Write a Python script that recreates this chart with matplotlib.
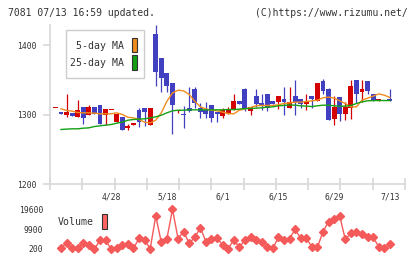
import numpy as np
import matplotlib
matplotlib.use("Agg")
import matplotlib.pyplot as plt
from matplotlib.patches import Rectangle

# ---------------- data ----------------
header_left = "7081 07/13 16:59 updated."
header_right = "(C)https://www.rizumu.net/"

date_labels = ["4/28", "5/18", "6/1", "6/15", "6/29", "7/13"]
date_label_idx = [9, 19, 29, 39, 49, 59]

price_ticks = [1200, 1300, 1400]
volume_ticks = [200, 9900, 19600]

candle_idx = list(range(-1, 60))
opens = [1310, 1304, 1298.6, 1301.5, 1296.2, 1311.5, 1299, 1311.5, 1313, 1299, 1307,
         1289, 1297, 1280, 1284.6, 1307, 1309.6, 1285.6, 1416.5, 1382, 1359,
         1345.6, 1305, 1301.4, 1309, 1336, 1310, 1307, 1313, 1304.3, 1297.6,
         1301.4, 1306.2, 1320, 1337.4, 1304.6, 1326, 1317, 1330, 1320, 1318.7,
         1321.6, 1310, 1326, 1321.6, 1314.4, 1327.3, 1320, 1347.5, 1336, 1294.2,
         1324.5, 1301.4, 1310, 1349, 1331.7, 1347.5, 1328.8, 1320, 1321.6, 1323]
highs = [1310, 1304, 1330, 1301.5, 1320.6, 1311.5, 1313, 1311.5, 1313, 1308.6, 1307,
         1300.5, 1297, 1286, 1287.5, 1310, 1309.6, 1309.6, 1429, 1382, 1359,
         1345.6, 1307, 1312, 1339, 1340, 1316, 1317.7, 1313, 1304.3, 1309.6,
         1311, 1330, 1320, 1338, 1311, 1336, 1330, 1330, 1320, 1327,
         1340, 1340, 1350, 1321.6, 1330, 1327.3, 1346, 1350.4, 1338, 1326,
         1324.5, 1318.7, 1349, 1349, 1349, 1347.5, 1328.8, 1322, 1323, 1336]
lows = [1310, 1300.5, 1296.6, 1297.6, 1296.2, 1286.6, 1299, 1300.5, 1286, 1285.6, 1307,
        1289, 1277.5, 1278, 1284.6, 1282, 1283, 1285.6, 1340.7, 1332, 1332,
        1272, 1302, 1280, 1304, 1310, 1294.7, 1294.7, 1289, 1289, 1294.7,
        1301.4, 1306.2, 1315, 1305, 1300, 1311, 1306, 1305, 1315, 1308,
        1299, 1310, 1298.6, 1310, 1305.8, 1310, 1320, 1328.8, 1292.8, 1285.6,
        1290, 1292.8, 1294, 1317, 1318.7, 1328.8, 1320, 1320, 1321.6, 1320]
closes = [1310, 1300.5, 1303, 1297.6, 1306.2, 1294.7, 1311.5, 1300.5, 1286, 1308.6, 1307.2,
          1300.5, 1277.5, 1284, 1287.5, 1289, 1303.4, 1309.6, 1361, 1352, 1341,
          1313, 1306.5, 1298.6, 1305, 1316, 1304.3, 1301.4, 1294.7, 1300.5, 1306.2,
          1306.2, 1320, 1315, 1308, 1311, 1315, 1314, 1310, 1315, 1327,
          1317.3, 1318.7, 1318.7, 1314.4, 1320, 1321.6, 1346, 1334.5, 1292.8, 1311.5,
          1301.4, 1311.5, 1341.7, 1328.8, 1336, 1334.5, 1320, 1322, 1323, 1320]

ma_idx = list(range(0, 60))
ma5 = [1308.2, 1305.8, 1304.8, 1302.9, 1302.4, 1302.4, 1302, 1301, 1301, 1301,
       1302.4, 1300, 1296, 1295.2, 1292.8, 1289, 1288, 1291.8, 1302.4, 1319,
       1331, 1335, 1334, 1328.8, 1319, 1311, 1308, 1306.2, 1305.3, 1303.4,
       1301.4, 1301, 1306.2, 1308, 1310, 1312.5, 1313, 1313, 1313, 1314,
       1315.8, 1316.8, 1317.7, 1317.7, 1318.7, 1319.7, 1320.6, 1324, 1325, 1323.5,
       1319.7, 1315.8, 1311, 1311, 1320.6, 1323.5, 1326.4, 1329.7, 1327.8, 1324.5]
ma25 = [1278.4, 1279, 1279.4, 1279.4, 1280.3, 1280.8, 1282.7, 1283.7, 1284.7, 1285.6,
        1287.5, 1289, 1291.8, 1292.8, 1293.3, 1293.8, 1295.2, 1296.6, 1299, 1302.4,
        1305.3, 1306.2, 1306.2, 1306.7, 1306.7, 1306.7, 1306.7, 1306.7, 1306.7, 1306.7,
        1307.2, 1307.2, 1307.7, 1308.6, 1308.6, 1309.1, 1309.6, 1310.6, 1311, 1312.5,
        1313, 1313.9, 1313.4, 1312.5, 1312, 1311.5, 1312.5, 1313.4, 1313.4, 1312.5,
        1312, 1312, 1313, 1315.8, 1318.2, 1319.7, 1320.1, 1320.1, 1320.1, 1320.1]

volume = [850, 3000, 500, 500, 3000, 2200, 100, 4600, 4600, 100,
          850, 2000, 2500, 500, 5400, 4600, 350, 16300, 3460, 5250,
          19600, 5250, 8680, 3000, 5900, 10630, 3790, 5250, 5740, 2000,
          360, 4760, 1000, 4600, 5900, 4440, 3460, 1340, 500, 5900,
          4440, 5250, 9820, 5420, 5420, 1340, 1000, 8680, 13570, 15030,
          16340, 4930, 7860, 8680, 7370, 5900, 5900, 1340, 500, 2480]

# ---------------- style ----------------
W, H = 420, 259
C_UP = "#d40000"
C_DN = "#4040c0"
C_MA5 = "#f08c1e"
C_MA25 = "#14a014"
C_VOL = "#f55a5a"
C_AX = "#d8d8d8"
C_TXT = "#333333"
MONO = "DejaVu Sans Mono"

def px2fig(x0, y0, x1, y1):
    return [x0 / W, 1 - y1 / H, (x1 - x0) / W, (y1 - y0) / H]

fig = plt.figure(figsize=(W / 100, H / 100), dpi=100)
fig.patch.set_facecolor("white")

# main axes: px x 50..405, y 25..184
ax = fig.add_axes(px2fig(50, 25, 405, 184))
slope = 0.695  # px per price unit
ax.set_ylim(1200, 1200 + 159 / slope)
dx = 5.574
x_lo = (50 - 61) / dx
x_hi = (405 - 61) / dx
ax.set_xlim(x_lo, x_hi)

for s in ["top", "right"]:
    ax.spines[s].set_visible(False)
ax.spines["left"].set_color(C_AX)
ax.spines["bottom"].set_color(C_AX)
ax.spines["left"].set_linewidth(1.2)
ax.spines["bottom"].set_linewidth(1.2)

ax.set_yticks(price_ticks)
ax.set_yticklabels([str(t) for t in price_ticks], fontfamily=MONO, fontsize=5.8, color=C_TXT)
ax.tick_params(axis="y", length=5, width=1.2, color=C_AX, pad=5)
xt = np.linspace(x_lo, x_hi, 12)
ax.set_xticks(xt)
ax.set_xticklabels([])
ax.tick_params(axis="x", length=9, width=1.2, color=C_AX, direction="inout")

for lab, i in zip(date_labels, date_label_idx):
    ax.text(i, -0.082, lab, transform=ax.get_xaxis_transform(), ha="center", va="center",
            fontfamily=MONO, fontsize=5.8, color=C_TXT, clip_on=False)

# candles
bw = 0.88
for x, o, h, l, c in zip(candle_idx, opens, highs, lows, closes):
    col = C_UP if c >= o else C_DN
    ax.vlines(x, l, h, color=col, lw=0.9, zorder=3)
    bot = min(o, c)
    ht = max(abs(c - o), 1.4)
    ax.bar(x, ht, bottom=bot, width=bw, color=col, lw=0, zorder=4)

ax.plot(ma_idx, ma5, color=C_MA5, lw=1.0, zorder=5)
ax.plot(ma_idx, ma25, color=C_MA25, lw=1.0, zorder=5)

# legend box
fig.patches.append(Rectangle((65.5 / W, 1 - 77.5 / H), 78 / W, 47.5 / H, transform=fig.transFigure,
                             facecolor="white", edgecolor="#cccccc", lw=1.0, zorder=10))
fig.text(124 / W, 1 - 46 / H, "5-day MA", ha="right", va="center", fontfamily=MONO,
         fontsize=7.1, color=C_TXT, zorder=11)
fig.text(124 / W, 1 - 63 / H, "25-day MA", ha="right", va="center", fontfamily=MONO,
         fontsize=7.1, color=C_TXT, zorder=11)
fig.patches.append(Rectangle((131.5 / W, 1 - 52 / H), 5.5 / W, 14.5 / H, transform=fig.transFigure,
                             facecolor=C_MA5, edgecolor="#333333", lw=0.8, zorder=11))
fig.patches.append(Rectangle((131.5 / W, 1 - 69.5 / H), 5.5 / W, 14.5 / H, transform=fig.transFigure,
                             facecolor=C_MA25, edgecolor="#333333", lw=0.8, zorder=11))

# volume axes: px y 203..255
vax = fig.add_axes(px2fig(50, 203, 405, 255))
vpx = (249 - 209.3) / (19600 - 200)
vax.set_xlim(x_lo, x_hi)
vax.set_ylim(200 - (255 - 249) / vpx, 19600 + (209.3 - 203) / vpx)
vax.plot(ma_idx, volume, color=C_VOL, lw=1.0, marker="D", ms=4.2, mec=C_VOL, mfc=C_VOL, zorder=3)
for s in vax.spines.values():
    s.set_visible(False)
vax.set_xticks([])
vax.set_yticks(volume_ticks)
vax.set_yticklabels([str(t) for t in volume_ticks], fontfamily=MONO, fontsize=5.8, color=C_TXT)
vax.tick_params(axis="y", length=0, pad=5)
vax.patch.set_alpha(0)

fig.text(58 / W, 1 - 222 / H, "Volume", ha="left", va="center", fontfamily=MONO,
         fontsize=7.1, color=C_TXT)
fig.patches.append(Rectangle((101.7 / W, 1 - 228.5 / H), 5.6 / W, 15 / H, transform=fig.transFigure,
                             facecolor="#ff6464", edgecolor="#333333", lw=0.8, zorder=11))

# header
fig.text(8 / W, 1 - 12.7 / H, header_left, ha="left", va="center", fontfamily=MONO,
         fontsize=7.0, color=C_TXT)
fig.text(408 / W, 1 - 12.7 / H, header_right, ha="right", va="center", fontfamily=MONO,
         fontsize=7.0, color=C_TXT)

fig.savefig("out.png", dpi=100)
